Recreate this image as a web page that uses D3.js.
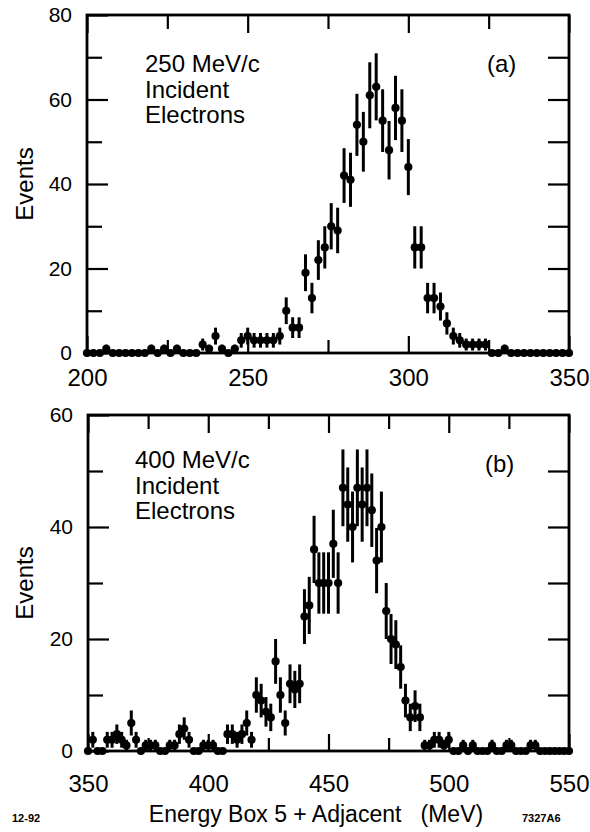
<!DOCTYPE html>
<html>
<head>
<meta charset="utf-8">
<script src="https://cdn.jsdelivr.net/npm/d3@7"></script>
<style>
  body { margin: 0; background: #fff; }
  svg text { font-family: "Liberation Sans", Arial, Helvetica, sans-serif; fill: #000; }
</style>
</head>
<body>
<svg id="chart" width="590" height="832"></svg>
<script>
// Two stacked histograms of calorimeter energy (box 5 + adjacent), 2 MeV bins,
// points with sqrt(N) error bars and a horizontal bar for the bin width.

// ---- panel (a): 250 MeV/c electrons ----
const energyA = [
  200, 202, 204, 206, 208, 210, 212, 214, 216, 218,
  220, 222, 224, 226, 228, 230, 232, 234, 236, 238,
  240, 242, 244, 246, 248, 250, 252, 254, 256, 258,
  260, 262, 264, 266, 268, 270, 272, 274, 276, 278,
  280, 282, 284, 286, 288, 290, 292, 294, 296, 298,
  300, 302, 304, 306, 308, 310, 312, 314, 316, 318,
  320, 322, 324, 326, 328, 330, 332, 334, 336, 338,
  340, 342, 344, 346, 348, 350
];
const eventsA = [
  0, 0, 0, 1, 0, 0, 0, 0, 0, 0,
  1, 0, 1, 0, 1, 0, 0, 0, 2, 1,
  4, 1, 0, 1, 3, 4, 3, 3, 3, 3,
  4, 10, 6, 6, 19, 13, 22, 25, 30, 29,
  42, 41, 54, 50, 61, 63, 55, 48, 58, 55,
  44, 25, 25, 13, 13, 11, 7, 4, 3, 2,
  2, 2, 2, 0, 0, 1, 0, 0, 0, 0,
  0, 0, 0, 0, 0, 0
];
const xTicksA = [200, 225, 250, 275, 300, 325, 350];
const xLabelsA = [200, 250, 300, 350];
const yTicksA = [0, 10, 20, 30, 40, 50, 60, 70, 80];
const yLabelsA = [0, 20, 40, 60, 80];
const noteA = ["250 MeV/c", "Incident", "Electrons"];

// ---- panel (b): 400 MeV/c electrons ----
const energyB = [
  350, 352, 354, 356, 358, 360, 362, 364, 366, 368,
  370, 372, 374, 376, 378, 380, 382, 384, 386, 388,
  390, 392, 394, 396, 398, 400, 402, 404, 406, 408,
  410, 412, 414, 416, 418, 420, 422, 424, 426, 428,
  430, 432, 434, 436, 438, 440, 442, 444, 446, 448,
  450, 452, 454, 456, 458, 460, 462, 464, 466, 468,
  470, 472, 474, 476, 478, 480, 482, 484, 486, 488,
  490, 492, 494, 496, 498, 500, 502, 504, 506, 508,
  510, 512, 514, 516, 518, 520, 522, 524, 526, 528,
  530, 532, 534, 536, 538, 540, 542, 544, 546, 548,
  550
];
const eventsB = [
  0, 2, 0, 0, 2, 2, 3, 2, 1, 5,
  2, 0, 1, 1, 1, 0, 0, 1, 1, 3,
  4, 2, 0, 0, 1, 1, 1, 0, 0, 3,
  3, 2, 3, 5, 2, 10, 9, 7, 6, 16,
  10, 5, 12, 11, 12, 24, 26, 36, 30, 30,
  30, 37, 30, 47, 44, 40, 47, 44, 47, 43,
  34, 40, 25, 20, 19, 15, 9, 6, 8, 6,
  1, 1, 2, 2, 1, 2, 0, 0, 1, 0,
  1, 0, 0, 0, 1, 0, 0, 1, 1, 0,
  0, 0, 1, 1, 0, 0, 0, 0, 0, 0,
  0
];
const xTicksB = [350, 375, 400, 425, 450, 475, 500, 525, 550];
const xLabelsB = [350, 400, 450, 500, 550];
const yTicksB = [0, 10, 20, 30, 40, 50, 60];
const yLabelsB = [0, 20, 40, 60];
const noteB = ["400 MeV/c", "Incident", "Electrons"];

const xTitle = "Energy Box 5 + Adjacent   (MeV)";
const yTitle = "Events";
const BIN_HALF = 1;

const svg = d3.select('#chart');

const panels = [
  { x0: 87, x1: 569, y0: 15, y1: 353, energy: energyA, events: eventsA,
    xDomain: [200, 350], yDomain: [0, 80], xTicks: xTicksA, xLabels: xLabelsA,
    yTicks: yTicksA, yLabels: yLabelsA, note: noteA, noteX: 145, noteY: 72,
    tag: "(a)", tagX: 487, tagY: 72, xPad: 16 },
  { x0: 88, x1: 569, y0: 415, y1: 751, energy: energyB, events: eventsB,
    xDomain: [350, 550], yDomain: [0, 60], xTicks: xTicksB, xLabels: xLabelsB,
    yTicks: yTicksB, yLabels: yLabelsB, note: noteB, noteX: 135, noteY: 468,
    tag: "(b)", tagX: 485, tagY: 472, xPad: 24 }
];

function styleAxis(g) {
  g.select('.domain').remove();
  g.selectAll('.tick line').attr('stroke', '#000').attr('stroke-width', 2.2);
}

panels.forEach(p => {
  const x = d3.scaleLinear().domain(p.xDomain).range([p.x0, p.x1]);
  const y = d3.scaleLinear().domain(p.yDomain).range([p.y1, p.y0]);
  const g = svg.append('g');

  // inward ticks on all four sides, short minor + longer labelled major
  const minorX = p.xTicks.filter(v => !p.xLabels.includes(v));
  const minorY = p.yTicks.filter(v => !p.yLabels.includes(v));

  g.append('g').attr('transform', `translate(0,${p.y1})`)
    .call(d3.axisBottom(x).tickValues(minorX).tickSize(-13).tickFormat(''))
    .call(styleAxis);
  g.append('g').attr('transform', `translate(0,${p.y1})`)
    .call(d3.axisBottom(x).tickValues(p.xLabels).tickSize(-17).tickPadding(p.xPad))
    .call(styleAxis)
    .selectAll('text').style('font-size', '24px');
  g.append('g').attr('transform', `translate(0,${p.y0})`)
    .call(d3.axisTop(x).tickValues(minorX).tickSize(-14).tickFormat(''))
    .call(styleAxis);
  g.append('g').attr('transform', `translate(0,${p.y0})`)
    .call(d3.axisTop(x).tickValues(p.xLabels).tickSize(-18).tickFormat(''))
    .call(styleAxis);

  g.append('g').attr('transform', `translate(${p.x0},0)`)
    .call(d3.axisLeft(y).tickValues(minorY).tickSize(-15).tickFormat(''))
    .call(styleAxis);
  g.append('g').attr('transform', `translate(${p.x0},0)`)
    .call(d3.axisLeft(y).tickValues(p.yLabels).tickSize(-21).tickPadding(15))
    .call(styleAxis)
    .selectAll('text').style('font-size', '21px');
  g.append('g').attr('transform', `translate(${p.x1},0)`)
    .call(d3.axisRight(y).tickValues(p.yTicks.slice(1, -1)).tickSize(-21).tickFormat(''))
    .call(styleAxis);

  // frame
  g.append('rect')
    .attr('x', p.x0).attr('y', p.y0)
    .attr('width', p.x1 - p.x0).attr('height', p.y1 - p.y0)
    .attr('fill', 'none').attr('stroke', '#000').attr('stroke-width', 2.8);

  const pts = p.energy.map((e, i) => ({ e, n: p.events[i], err: Math.sqrt(p.events[i]) }));

  // vertical error bars (Poisson)
  g.selectAll('line.err').data(pts.filter(d => d.n > 0)).enter().append('line')
    .attr('class', 'err')
    .attr('x1', d => x(d.e)).attr('x2', d => x(d.e))
    .attr('y1', d => y(d.n - d.err)).attr('y2', d => y(d.n + d.err))
    .attr('stroke', '#000').attr('stroke-width', 3);

  // bin width bars
  g.selectAll('line.bin').data(pts).enter().append('line')
    .attr('class', 'bin')
    .attr('x1', d => x(d.e - BIN_HALF)).attr('x2', d => x(d.e + BIN_HALF))
    .attr('y1', d => y(d.n)).attr('y2', d => y(d.n))
    .attr('stroke', '#000').attr('stroke-width', 3);

  g.selectAll('circle.pt').data(pts).enter().append('circle')
    .attr('class', 'pt')
    .attr('cx', d => x(d.e)).attr('cy', d => y(d.n))
    .attr('r', 4.1).attr('fill', '#000');

  // annotations
  g.append('text')
    .attr('x', p.noteX).attr('y', p.noteY)
    .style('font-size', '24px')
    .selectAll('tspan').data(p.note).enter().append('tspan')
    .attr('x', p.noteX).attr('dy', (d, i) => i === 0 ? 0 : 25.5)
    .text(d => d);

  g.append('text')
    .attr('x', p.tagX).attr('y', p.tagY)
    .style('font-size', '24px')
    .text(p.tag);

  g.append('text')
    .attr('transform', `translate(33,${(p.y0 + p.y1) / 2}) rotate(-90)`)
    .attr('text-anchor', 'middle')
    .style('font-size', '24px')
    .text(yTitle);
});

svg.append('text')
  .attr('x', 316).attr('y', 822)
  .attr('text-anchor', 'middle')
  .style('font-size', '23px')
  .style('white-space', 'pre')
  .attr('xml:space', 'preserve')
  .text(xTitle);

svg.append('text')
  .attr('x', 12).attr('y', 822)
  .style('font-size', '11px')
  .style('font-weight', 'bold')
  .text('12-92');

svg.append('text')
  .attr('x', 522).attr('y', 822)
  .style('font-size', '11px')
  .style('font-weight', 'bold')
  .text('7327A6');
</script>
</body>
</html>
